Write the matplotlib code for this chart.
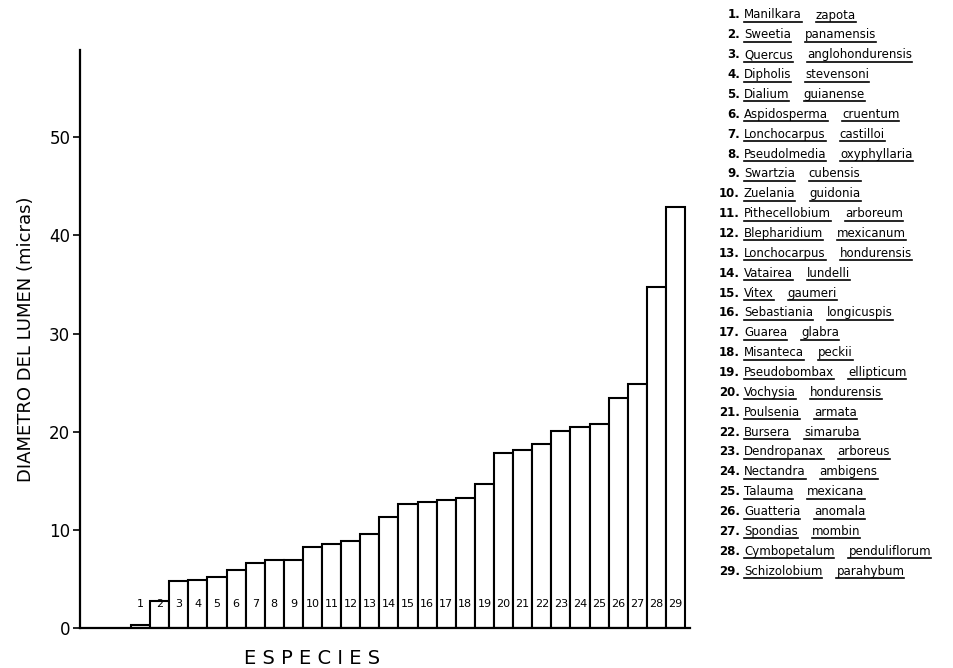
import matplotlib
matplotlib.use("Agg")
import matplotlib.pyplot as plt
import numpy as np

# bar heights (micras)
diametro = [0.3, 2.8, 4.8, 4.9, 5.2, 5.9, 6.6, 6.9, 6.9, 8.3,
            8.6, 8.9, 9.6, 11.3, 12.6, 12.8, 13.0, 13.2, 14.7, 17.8,
            18.1, 18.8, 20.1, 20.5, 20.8, 23.4, 24.9, 34.7, 42.9]

especies = [
    "Manilkara zapota", "Sweetia panamensis", "Quercus anglohondurensis",
    "Dipholis stevensoni", "Dialium guianense", "Aspidosperma cruentum",
    "Lonchocarpus castilloi", "Pseudolmedia oxyphyllaria", "Swartzia cubensis",
    "Zuelania guidonia", "Pithecellobium arboreum", "Blepharidium mexicanum",
    "Lonchocarpus hondurensis", "Vatairea lundelli", "Vitex gaumeri",
    "Sebastiania longicuspis", "Guarea glabra", "Misanteca peckii",
    "Pseudobombax ellipticum", "Vochysia hondurensis", "Poulsenia armata",
    "Bursera simaruba", "Dendropanax arboreus", "Nectandra ambigens",
    "Talauma mexicana", "Guatteria anomala", "Spondias mombin",
    "Cymbopetalum penduliflorum", "Schizolobium parahybum",
]

yticks = [0, 10, 20, 30, 40, 50]

W, H = 954, 668
fig = plt.figure(figsize=(W / 100, H / 100), dpi=100)
ax = fig.add_axes([80 / W, 40 / H, 610 / W, 578 / H])

x = np.arange(1, len(diametro) + 1)
ax.bar(x, diametro, width=1.0, color="white", edgecolor="black", linewidth=1.5)

# numbers inside the bars
for xi in x:
    ax.text(xi, 2.4, str(xi), ha="center", va="center", fontsize=8, color="black")

ax.set_xlim(-2.17, 29.76)
ax.set_ylim(0, 58.9)
ax.spines["top"].set_visible(False)
ax.spines["right"].set_visible(False)
ax.spines["left"].set_linewidth(1.6)
ax.spines["bottom"].set_linewidth(1.6)
ax.set_xticks([])
ax.set_yticks(yticks)
ax.tick_params(axis="y", direction="out", length=5, width=1.2, labelsize=12, pad=2)

ax.set_ylabel("DIAMETRO DEL LUMEN (micras)", fontsize=13, labelpad=10)
fig.text(312 / W, 1 - 659 / H, "E S P E C I E S", ha="center", va="center", fontsize=14)

# species list on the right, every word underlined
fig.canvas.draw()
renderer = fig.canvas.get_renderer()
fs = 8.5
y0, dy = 15, 19.86
for i, name in enumerate(especies):
    ypx = y0 + i * dy
    yf = 1 - ypx / H
    fig.text(740 / W, yf, f"{i + 1}.", ha="right", va="center", fontsize=fs,
             fontweight="bold")
    xpx = 744
    for word in name.split():
        t = fig.text(xpx / W, yf, word, ha="left", va="center", fontsize=fs)
        bb = t.get_window_extent(renderer)
        uy = (H - ypx - 7) / H
        fig.add_artist(plt.Line2D([bb.x0 / W, bb.x1 / W], [uy, uy],
                                  color="black", linewidth=1.2))
        xpx = bb.x1 + 14

fig.savefig("out.png", dpi=100)
